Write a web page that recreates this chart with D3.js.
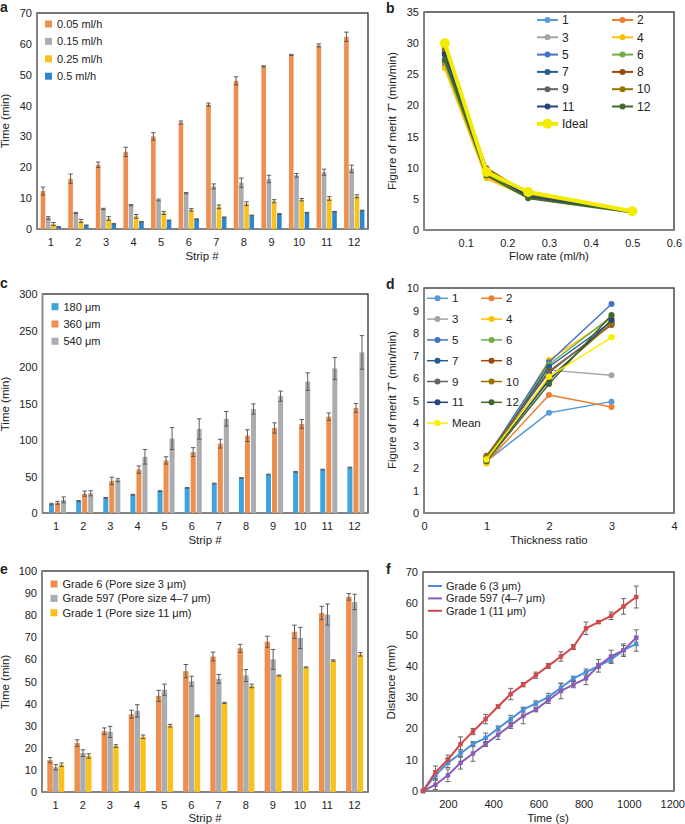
<!DOCTYPE html>
<html><head><meta charset="utf-8">
<script src="https://cdn.jsdelivr.net/npm/d3@7"></script>
<style>
body{margin:0;background:#fff}
svg text{font-family:"Liberation Sans",Arial,Helvetica,sans-serif;fill:#222}
</style></head><body>
<svg id="chart" width="685" height="824"></svg>
<script>
// ---------- DATA ----------
const strips = ["1","2","3","4","5","6","7","8","9","10","11","12"];

// Panel a : flow rates
const aNames = ["0.05 ml/h","0.15 ml/h","0.25 ml/h","0.5 ml/h"];
const a005 = [12.3,16.3,20.8,25.0,30.0,34.5,40.3,48.0,52.7,56.4,59.5,62.3];
const a005Err = [1.3,1.5,0.9,1.5,1.2,0.5,0.5,1.3,0.2,0.2,0.5,1.5];
const a015 = [3.6,5.2,6.5,7.7,9.4,11.6,13.8,15.0,16.2,17.4,18.4,19.5];
const a015Err = [0.4,0.2,0.2,0.2,0.3,0.2,0.8,1.5,1.2,0.6,1.0,1.2];
const a025 = [1.6,2.6,3.4,4.1,5.2,6.2,7.2,8.2,9.0,9.5,9.9,10.6];
const a025Err = [0.5,0.5,0.6,0.6,0.5,0.4,0.6,0.6,0.5,0.4,0.6,0.5];
const a05 = [0.7,1.2,1.7,2.3,2.8,3.2,3.8,4.4,4.9,5.3,5.6,6.0];
const a05Err = [0.1,0.1,0.1,0.1,0.1,0.1,0.1,0.1,0.1,0.1,0.1,0.1];
const aTicks = [0,10,20,30,40,50,60,70];

// Panel b : figure of merit vs flow rate
const flowRates = [0.05,0.15,0.25,0.5];
const bStrip1 = [27.5,9.0,5.5,2.9];
const bStrip2 = [26.5,8.6,5.4,2.9];
const bStrip3 = [28.0,9.3,5.6,3.0];
const bStrip4 = [26.0,8.3,5.3,2.9];
const bStrip5 = [28.5,9.6,5.6,3.0];
const bStrip6 = [26.8,8.8,5.4,2.9];
const bStrip7 = [28.3,9.5,5.5,2.9];
const bStrip8 = [29.0,9.9,5.8,3.0];
const bStrip9 = [29.3,9.7,5.7,3.0];
const bStrip10 = [29.0,9.8,5.7,3.0];
const bStrip11 = [28.2,9.4,5.4,2.9];
const bStrip12 = [27.3,8.8,5.1,2.8];
const bIdeal = [30.0,9.3,6.1,3.0];
const bYTicks = [0,5,10,15,20,25,30,35];
const bXTicks = [0.1,0.2,0.3,0.4,0.5,0.6];

// Panel c : thickness
const cNames = ["180 μm","360 μm","540 μm"];
const c180 = [12.3,16.3,20.8,25.0,30.0,34.5,40.3,48.0,52.7,56.4,59.5,62.3];
const c180Err = [1.0,0.8,0.5,0.5,0.5,0.5,0.5,0.5,0.5,0.5,0.5,0.5];
const c360 = [14,26.5,44,59.5,72,83.5,95,106,116.5,122,132,144];
const c360Err = [2,3.5,5,5,5,6,6,8,7,6,5,6];
const c540 = [18,27,45,77,102,115,129,142.5,160,180,198,220];
const c540Err = [4,3.5,2,10,15,14,10,7,7,12,15,23];
const cTicks = [0,50,100,150,200,250,300];

// Panel d : figure of merit vs thickness ratio
const thickRatio = [1,2,3];
const dStrip1 = [2.30,4.46,4.95];
const dStrip2 = [2.25,5.24,4.71];
const dStrip3 = [2.40,6.35,6.12];
const dStrip4 = [2.20,6.80,8.65];
const dStrip5 = [2.45,6.70,9.29];
const dStrip6 = [2.30,6.60,8.73];
const dStrip7 = [2.35,6.50,8.50];
const dStrip8 = [2.50,6.30,8.36];
const dStrip9 = [2.55,6.25,8.40];
const dStrip10 = [2.50,6.00,8.43];
const dStrip11 = [2.35,5.90,8.58];
const dStrip12 = [2.30,5.73,8.80];
const dMean = [2.38,6.06,7.81];
const dYTicks = [0,1,2,3,4,5,6,7,8,9,10];
const dXTicks = [0,1,2,3,4];

// Panel e : paper grade
const eNames = ["Grade 6 (Pore size 3 μm)","Grade 597 (Pore size 4–7 μm)","Grade 1 (Pore size 11 μm)"];
const eG6 = [14.4,22.1,27.5,35.2,43.5,54.7,61.3,65.0,68.0,72.5,81.0,88.3];
const eG6Err = [1.2,1.5,1.5,1.8,2.5,3,2,1.8,2.5,3,3,1.5];
const eG597 = [11.2,17.6,27.2,36.7,46.3,50.1,51.2,52.7,60.0,69.7,80.3,86.0];
const eG597Err = [1.2,1.5,2.5,2.8,2.5,2.3,2,2.7,4.5,4.8,4.8,3.5];
const eG1 = [12.3,16.3,20.8,25.0,30.0,34.5,40.3,48.0,52.7,56.4,59.5,62.3];
const eG1Err = [0.8,1,0.6,0.8,0.6,0.3,0.3,0.8,0.2,0.2,0.3,0.8];
const eTicks = [0,10,20,30,40,50,60,70,80,90,100];

// Panel f : distance vs time
const fNames = ["Grade 6 (3 μm)","Grade 597 (4–7 μm)","Grade 1 (11 μm)"];
const fTime = [90,145,200,256,311,367,422,478,533,589,644,700,755,811,866,922,977,1033];
const fG6 = [0,5,9,12,15,17,20,23,26,28,30,33,36,38,40,42,45,47];
const fG6Err = [0,1.5,1.5,1.2,0.8,1.5,0.8,1.2,0.8,0.8,1.2,1.3,0.7,1,0.8,1.2,1.5,2.3];
const fG597 = [0,2,5,9,12,15,18,21,24,26,29,32,34,36,40,43,45,49];
const fG597Err = [0,1.5,2,2,2.5,0.8,1.5,1,2.5,0.7,1,2.5,1,2,2,2,2,2.5];
const fG1 = [0,6,10,15,19,23,27,31,34,37,40,43,46,52,54,56,59,62];
const fG1Err = [0,2,1.5,2.3,1,1.5,0.5,1.8,0.7,1,0.8,1.5,0.8,2,0.5,1.2,2.5,3.5];
const fYTicks = [0,10,20,30,40,50,60,70];
const fXTicks = [200,400,600,800,1000,1200];

// ---------- STYLE ----------
const stripColors = ["#5B9BD5","#ED7D31","#A5A5A5","#FFC000","#4472C4","#70AD47",
                     "#255E91","#9E480E","#636363","#997300","#264478","#43682B"];
const FS = 11;
const svg = d3.select("#chart");

function frame(g, b){
  g.append("rect").attr("x",b.l).attr("y",b.t).attr("width",b.r-b.l).attr("height",b.b-b.t)
   .attr("fill","none").attr("stroke","#3c3c3c").attr("stroke-width",1.4);
  g.append("line").attr("x1",b.l).attr("x2",b.l).attr("y1",b.t).attr("y2",b.b).attr("stroke","#8a8a8a").attr("stroke-width",1.4);
  g.append("line").attr("x1",b.l).attr("x2",b.r).attr("y1",b.b).attr("y2",b.b).attr("stroke","#8a8a8a").attr("stroke-width",1.4);
}
function yAxis(g, y, b, ticks){
  const ax = g.append("g").attr("transform",`translate(${b.l},0)`)
    .call(d3.axisLeft(y).tickValues(ticks).tickSize(0).tickPadding(5).tickFormat(d3.format("d")));
  ax.select(".domain").remove();
  ax.selectAll("text").attr("font-size",FS).style("font-family",'"Liberation Sans",Arial,sans-serif').attr("fill","#222");
}
function xAxis(g, x, b, ticks, fmt){
  const axis = d3.axisBottom(x).tickSize(0).tickPadding(9);
  if(ticks) axis.tickValues(ticks);
  if(fmt) axis.tickFormat(fmt);
  const ax = g.append("g").attr("transform",`translate(0,${b.b})`).call(axis);
  ax.select(".domain").remove();
  ax.selectAll("text").attr("font-size",FS).style("font-family",'"Liberation Sans",Arial,sans-serif').attr("fill","#222");
  return ax;
}
function letter(x,y,t){
  svg.append("text").attr("x",x).attr("y",y).attr("font-size",14).attr("font-weight","bold").attr("fill","#111").text(t);
}
function yTitle(x, cy, txt, tstar){
  const t = svg.append("text").attr("transform",`translate(${x},${cy}) rotate(-90)`)
    .attr("text-anchor","middle").attr("font-size",11.5);
  if(tstar){
    t.append("tspan").text("Figure of merit ");
    t.append("tspan").attr("font-style","italic").text("T");
    t.append("tspan").attr("font-size",7).attr("dy",-4).text("*");
    t.append("tspan").attr("dy",4).text(" (min/min)");
  } else t.text(txt);
}
function xTitle(cx, y, txt){
  svg.append("text").attr("x",cx).attr("y",y).attr("text-anchor","middle").attr("font-size",11.5).text(txt);
}

// ---------- BAR PANEL ----------
function barPanel(o){
  const g = svg.append("g");
  const b = o.box;
  const x = d3.scaleBand().domain(strips).range([b.l,b.r]).padding(0);
  const bw = x.bandwidth();
  const xs = d3.scaleBand().domain(o.series.map(s=>s.name))
    .range([o.grp[0]*bw, o.grp[1]*bw]).paddingInner(o.pad).paddingOuter(0);
  const y = d3.scaleLinear().domain([0,o.yMax]).range([b.b,b.t]);
  frame(g,b);
  o.series.forEach(s=>{
    const sg = g.append("g");
    sg.selectAll("rect").data(strips).join("rect")
      .attr("x",(d)=>x(d)+xs(s.name)).attr("width",xs.bandwidth())
      .attr("y",(d,i)=>y(s.vals[i])).attr("height",(d,i)=>b.b-y(s.vals[i]))
      .attr("fill",s.color);
    const eg = sg.append("g").attr("stroke","#5a5a5a").attr("stroke-width",1);
    strips.forEach((d,i)=>{
      const cx = x(d)+xs(s.name)+xs.bandwidth()/2;
      const y1 = y(s.vals[i]+s.errs[i]), y0 = y(Math.max(0,s.vals[i]-s.errs[i]));
      eg.append("line").attr("x1",cx).attr("x2",cx).attr("y1",y1).attr("y2",y0);
      eg.append("line").attr("x1",cx-2.2).attr("x2",cx+2.2).attr("y1",y1).attr("y2",y1);
      eg.append("line").attr("x1",cx-2.2).attr("x2",cx+2.2).attr("y1",y0).attr("y2",y0);
    });
  });
  yAxis(g,y,b,o.yTicks);
  xAxis(g,x,b,null,null);
  const lg = g.append("g");
  o.series.forEach((s,i)=>{
    const yy = o.leg.y + i*o.leg.dy;
    lg.append("rect").attr("x",o.leg.x).attr("y",yy-3.5).attr("width",7).attr("height",7).attr("fill",s.color);
    lg.append("text").attr("x",o.leg.x+12).attr("y",yy).attr("dy","0.35em").attr("font-size",FS).text(s.name);
  });
}

barPanel({
  box:{l:37,t:13,r:368,b:229}, yMax:70, yTicks:aTicks, grp:[0.134,0.87], pad:0.12,
  series:[
    {name:aNames[0], vals:a005, errs:a005Err, color:"#EE8E4F"},
    {name:aNames[1], vals:a015, errs:a015Err, color:"#A9ACB0"},
    {name:aNames[2], vals:a025, errs:a025Err, color:"#F9C11C"},
    {name:aNames[3], vals:a05,  errs:a05Err,  color:"#2F86CC"}],
  leg:{x:45,y:24,dy:17.4}
});
barPanel({
  box:{l:42.5,t:294,r:368,b:513}, yMax:300, yTicks:cTicks, grp:[0.24,0.87], pad:0.17,
  series:[
    {name:cNames[0], vals:c180, errs:c180Err, color:"#3DA4DE"},
    {name:cNames[1], vals:c360, errs:c360Err, color:"#EE8E4F"},
    {name:cNames[2], vals:c540, errs:c540Err, color:"#A9ACB0"}],
  leg:{x:51.5,y:306.7,dy:17.3}
});
barPanel({
  box:{l:42,t:571,r:368,b:792}, yMax:100, yTicks:eTicks, grp:[0.195,0.82], pad:0.06,
  series:[
    {name:eNames[0], vals:eG6, errs:eG6Err, color:"#EE8E4F"},
    {name:eNames[1], vals:eG597, errs:eG597Err, color:"#A9ACB0"},
    {name:eNames[2], vals:eG1, errs:eG1Err, color:"#F9C11C"}],
  leg:{x:50.5,y:584,dy:14.4}
});

// ---------- LINE PANELS (b, d) ----------
function linePanel(o){
  const g = svg.append("g");
  const b = o.box;
  const x = d3.scaleLinear().domain(o.xDom).range([b.l,b.r]);
  const y = d3.scaleLinear().domain(o.yDom).range([b.b,b.t]);
  frame(g,b);
  const line = d3.line().x((d,i)=>x(o.xs[i])).y(d=>y(d));
  o.series.forEach(s=>{
    g.append("path").attr("d",line(s.vals)).attr("fill","none").attr("stroke",s.color)
     .attr("stroke-width",s.w).attr("stroke-linejoin","round");
    g.append("g").selectAll("circle").data(s.vals).join("circle")
     .attr("cx",(d,i)=>x(o.xs[i])).attr("cy",d=>y(d)).attr("r",s.r).attr("fill",s.color);
  });
  yAxis(g,y,b,o.yTicks);
  xAxis(g,x,b,o.xTicks,o.xFmt);
  o.series.forEach((s,i)=>{
    const col = o.legCols(i);
    const lx = o.leg.x[col.c], yy = o.leg.y + col.r*o.leg.dy;
    g.append("line").attr("x1",lx).attr("x2",lx+o.leg.len).attr("y1",yy).attr("y2",yy)
      .attr("stroke",s.color).attr("stroke-width",s.w);
    g.append("circle").attr("cx",lx+o.leg.len/2).attr("cy",yy).attr("r",s.r).attr("fill",s.color);
    g.append("text").attr("x",lx+o.leg.len+4).attr("y",yy).attr("dy","0.35em").attr("font-size",o.leg.fs).text(s.name);
  });
}
const bVals = [bStrip1,bStrip2,bStrip3,bStrip4,bStrip5,bStrip6,bStrip7,bStrip8,bStrip9,bStrip10,bStrip11,bStrip12];
const dVals = [dStrip1,dStrip2,dStrip3,dStrip4,dStrip5,dStrip6,dStrip7,dStrip8,dStrip9,dStrip10,dStrip11,dStrip12];
const legPos = i => i<12 ? {c:i%2, r:Math.floor(i/2)} : {c:0, r:6};

linePanel({
  box:{l:424,t:12,r:674,b:230}, xDom:[0,0.6], yDom:[0,35], xs:flowRates,
  yTicks:bYTicks, xTicks:bXTicks, xFmt:d3.format(".1f"),
  series: strips.map((s,i)=>({name:s, vals:bVals[i], color:stripColors[i], w:2, r:3}))
          .concat([{name:"Ideal", vals:bIdeal, color:"#F3EC00", w:4, r:5}]),
  leg:{x:[537,612], y:20, dy:17.3, len:21, fs:12}, legCols:legPos
});
linePanel({
  box:{l:424,t:288,r:674,b:513}, xDom:[0,4], yDom:[0,10], xs:thickRatio,
  yTicks:dYTicks, xTicks:dXTicks, xFmt:d3.format("d"),
  series: strips.map((s,i)=>({name:s, vals:dVals[i], color:stripColors[i], w:1.5, r:3}))
          .concat([{name:"Mean", vals:dMean, color:"#F8F000", w:1.5, r:3.2}]),
  leg:{x:[427,481], y:298.3, dy:20.8, len:21, fs:11.5}, legCols:legPos
});

// ---------- PANEL f ----------
(function(){
  const g = svg.append("g");
  const b = {l:423,t:572,r:674,b:791};
  const x = d3.scaleLinear().domain([90,1200]).range([b.l,b.r]);
  const y = d3.scaleLinear().domain([0,70]).range([b.b,b.t]);
  frame(g,b);
  const series = [
    {name:fNames[0], vals:fG6, errs:fG6Err, color:"#4A90D9"},
    {name:fNames[1], vals:fG597, errs:fG597Err, color:"#8A5CB8"},
    {name:fNames[2], vals:fG1, errs:fG1Err, color:"#D2474A"}];
  const line = d3.line().x((d,i)=>x(fTime[i])).y(d=>y(d));
  series.forEach(s=>{
    const eg = g.append("g").attr("stroke","#666").attr("stroke-width",1);
    s.vals.forEach((v,i)=>{
      if(!s.errs[i]) return;
      const cx = x(fTime[i]), y1=y(v+s.errs[i]), y0=y(v-s.errs[i]);
      eg.append("line").attr("x1",cx).attr("x2",cx).attr("y1",y1).attr("y2",y0);
      eg.append("line").attr("x1",cx-2.5).attr("x2",cx+2.5).attr("y1",y1).attr("y2",y1);
      eg.append("line").attr("x1",cx-2.5).attr("x2",cx+2.5).attr("y1",y0).attr("y2",y0);
    });
  });
  series.forEach(s=>{
    g.append("path").attr("d",line(s.vals)).attr("fill","none").attr("stroke",s.color).attr("stroke-width",2);
    g.append("g").selectAll("rect").data(s.vals).join("rect")
      .attr("x",(d,i)=>x(fTime[i])-2.2).attr("y",d=>y(d)-2.2).attr("width",4.4).attr("height",4.4).attr("fill",s.color);
  });
  yAxis(g,y,b,fYTicks);
  const ax = xAxis(g,x,b,fXTicks,d3.format("d"));
  // keep the last label inside the page edge
  ax.selectAll(".tick").filter(d=>d===1200).select("text").attr("text-anchor","end").attr("dx",10.5);
  series.forEach((s,i)=>{
    const yy = 586 + i*12.4;
    g.append("line").attr("x1",428).attr("x2",442).attr("y1",yy).attr("y2",yy).attr("stroke",s.color).attr("stroke-width",2);
    g.append("text").attr("x",446).attr("y",yy).attr("dy","0.35em").attr("font-size",FS).text(s.name);
  });
})();

// ---------- TITLES ----------
letter(0,12,"a"); letter(386,13,"b");
letter(0,288,"c"); letter(386,289,"d");
letter(0,574,"e"); letter(386,574,"f");

yTitle(9,121,"Time (min)");
xTitle(202,260,"Strip #");
yTitle(396,121,null,true);
xTitle(549,260,"Flow rate (ml/h)");
yTitle(9,404,"Time (min)");
xTitle(205,544,"Strip #");
yTitle(396,400,null,true);
xTitle(549,544,"Thickness ratio");
yTitle(9,682,"Time (min)");
xTitle(205,822,"Strip #");
yTitle(395,682,"Distance (mm)");
xTitle(548,822,"Time (s)");
</script>
</body></html>
